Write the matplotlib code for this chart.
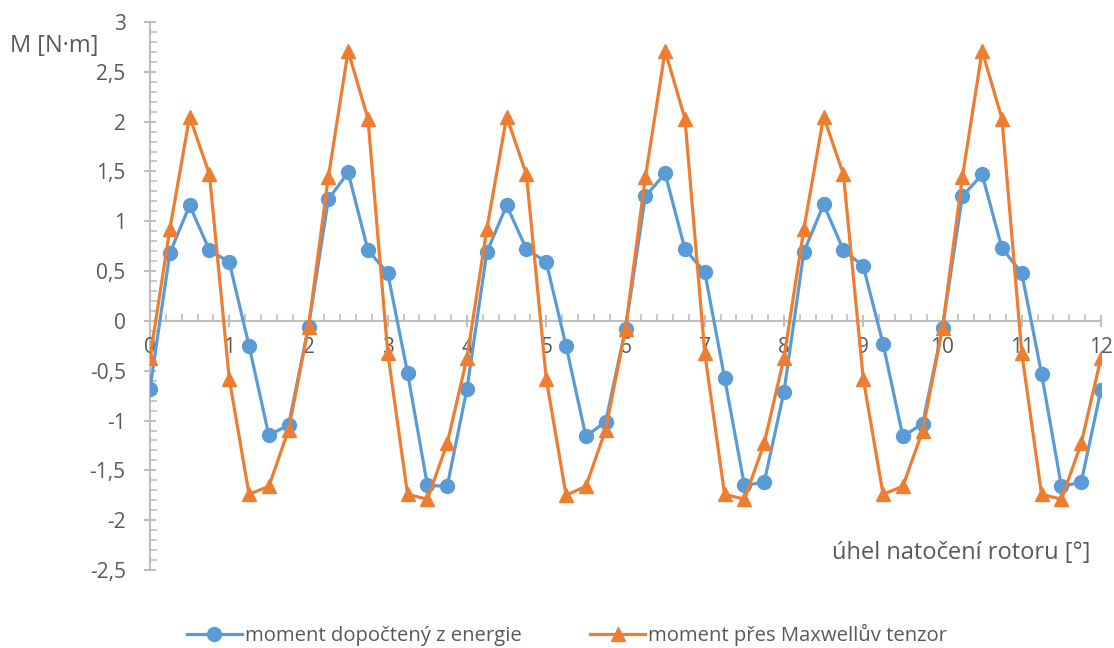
import matplotlib
matplotlib.use("Agg")
import matplotlib.pyplot as plt
from matplotlib.ticker import MultipleLocator, FuncFormatter
import numpy as np

angle = [i * 0.25 for i in range(49)]
energy = [-0.68, 0.68, 1.16, 0.71, 0.59, -0.25, -1.15, -1.04, -0.06,
          1.22, 1.49, 0.71, 0.48, -0.52, -1.65, -1.66, -0.68,
          0.69, 1.16, 0.72, 0.59, -0.25, -1.16, -1.01, -0.08,
          1.25, 1.48, 0.72, 0.49, -0.57, -1.65, -1.62, -0.71,
          0.69, 1.17, 0.71, 0.55, -0.23, -1.16, -1.03, -0.07,
          1.25, 1.47, 0.73, 0.48, -0.53, -1.66, -1.62, -0.69]
maxwell = [-0.37, 0.92, 2.05, 1.47, -0.58, -1.74, -1.66, -1.09, -0.06,
           1.44, 2.71, 2.03, -0.32, -1.74, -1.79, -1.23, -0.37,
           0.92, 2.05, 1.47, -0.58, -1.75, -1.66, -1.09, -0.08,
           1.44, 2.71, 2.03, -0.32, -1.74, -1.79, -1.23, -0.37,
           0.92, 2.05, 1.47, -0.58, -1.74, -1.66, -1.10, -0.07,
           1.44, 2.71, 2.03, -0.32, -1.74, -1.79, -1.23, -0.37]
labels = ["moment dopočtený z energie", "moment přes Maxwellův tenzor"]

plt.rcParams['font.family'] = ['Open Sans', 'DejaVu Sans']
txt = '#595959'
axc = '#bfbfbf'

W, H = 1114, 648
fig = plt.figure(figsize=(W / 100, H / 100), dpi=100)
ax = fig.add_axes([150 / W, (H - 570) / H, (1101 - 150) / W, (570 - 22) / H])

ax.plot(angle, energy, color='#5B9BD5', lw=2.3, marker='o', ms=10,
        label=labels[0], zorder=3)
ax.plot(angle, maxwell, color='#ED7D31', lw=2.3, marker='^', ms=10,
        label=labels[1], zorder=3)

ax.set_xlim(0, 12)
ax.set_ylim(-2.5, 3)
for s in ['top', 'right']:
    ax.spines[s].set_visible(False)
ax.spines['bottom'].set_position(('data', 0))
for s in ['bottom', 'left']:
    ax.spines[s].set_color(axc)
    ax.spines[s].set_linewidth(1.5)
    ax.spines[s].set_zorder(1)

ax.xaxis.set_major_locator(MultipleLocator(1))
ax.xaxis.set_minor_locator(MultipleLocator(0.2))
ax.yaxis.set_major_locator(MultipleLocator(0.5))
ax.yaxis.set_minor_locator(MultipleLocator(0.1))
fmt = FuncFormatter(lambda v, p: ('%g' % round(v, 2)).replace('.', ','))
ax.xaxis.set_major_formatter(fmt)
ax.yaxis.set_major_formatter(fmt)
ax.tick_params(which='major', direction='inout', length=9, width=1.5, color=axc,
               labelcolor=txt, labelsize=15)
ax.tick_params(which='minor', direction='in', length=5, width=1.2, color=axc)
ax.tick_params(axis='x', which='major', pad=7)
ax.tick_params(axis='y', which='major', pad=13)

fig.text(10 / W, 1 - 46 / H, "M [N·m]", color=txt, fontsize=17, va='center', ha='left')
fig.text(1090 / W, 1 - 553 / H, "úhel natočení rotoru [°]", color=txt, fontsize=17,
         va='center', ha='right')

leg = fig.legend(loc='center', bbox_to_anchor=(0.509, 1 - 635 / H), ncol=2, frameon=False,
                 fontsize=14.6, handlelength=2.7, columnspacing=3.4, handletextpad=0.15,
                 markerscale=1.0)
for t in leg.get_texts():
    t.set_color(txt)

fig.savefig('out.png', dpi=100)
